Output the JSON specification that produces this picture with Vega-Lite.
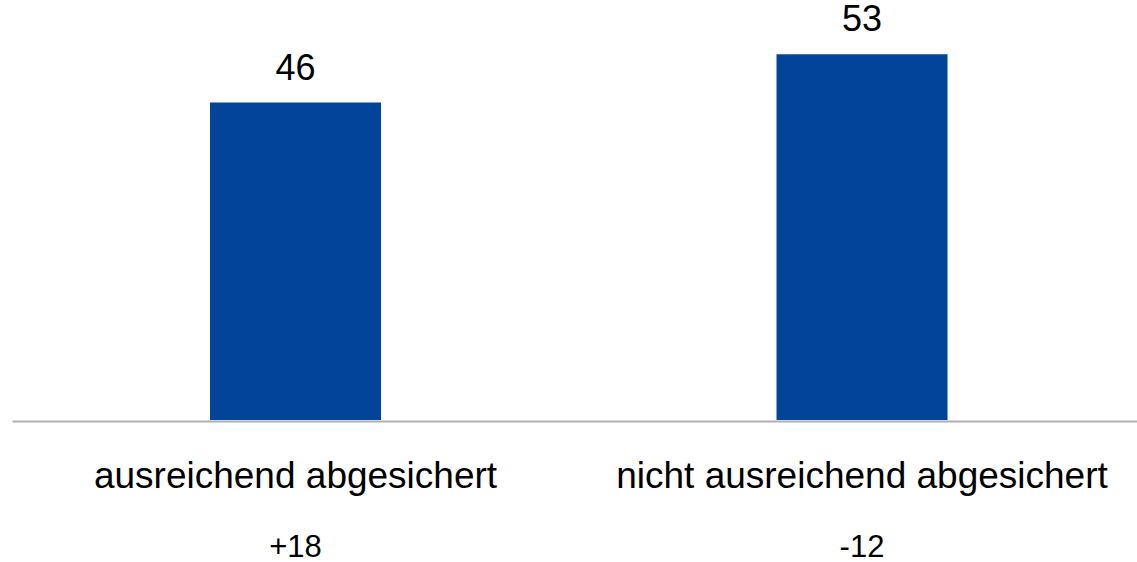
{
  "$schema": "https://vega.github.io/schema/vega-lite/v6.json",
  "width": 1125,
  "height": 420,
  "autosize": {"type": "none"},
  "padding": {"left": 12, "top": 0, "right": 0, "bottom": 142},
  "background": "white",
  "config": {
    "view": {"stroke": null},
    "font": "Liberation Sans",
    "text": {"font": "Liberation Sans"}
  },
  "data": {
    "values": [
      {"kategorie": "ausreichend abgesichert", "wert": 46, "veraenderung": "+18"},
      {"kategorie": "nicht ausreichend abgesichert", "wert": 53, "veraenderung": "-12"}
    ]
  },
  "encoding": {
    "x": {
      "field": "kategorie",
      "type": "nominal",
      "sort": null,
      "scale": {"paddingInner": 0.6981, "paddingOuter": 0.342, "align": 0.511},
      "axis": {
        "title": null,
        "labelAngle": 0,
        "labelFontSize": 37,
        "labelFont": "Liberation Sans",
        "labelColor": "#000000",
        "labelBaseline": "alphabetic",
        "labelPadding": 66,
        "ticks": false,
        "tickSize": 0,
        "domainColor": "#b0b0b0",
        "domainWidth": 2,
        "offset": 1,
        "labelLimit": 0
      }
    }
  },
  "layer": [
    {
      "mark": {"type": "bar", "color": "#03449b"},
      "encoding": {
        "y": {
          "field": "wert",
          "type": "quantitative",
          "scale": {"domain": [0, 60.87], "nice": false},
          "axis": null
        }
      }
    },
    {
      "mark": {"type": "text", "fontSize": 36, "baseline": "alphabetic", "dy": -23, "color": "#000000", "font": "Liberation Sans"},
      "encoding": {
        "y": {"field": "wert", "type": "quantitative"},
        "text": {"field": "wert", "type": "quantitative"}
      }
    },
    {
      "mark": {"type": "text", "fontSize": 31, "baseline": "alphabetic", "dy": 137, "color": "#000000", "font": "Liberation Sans", "clip": false},
      "encoding": {
        "y": {"datum": 0},
        "text": {"field": "veraenderung", "type": "nominal"}
      }
    }
  ]
}
